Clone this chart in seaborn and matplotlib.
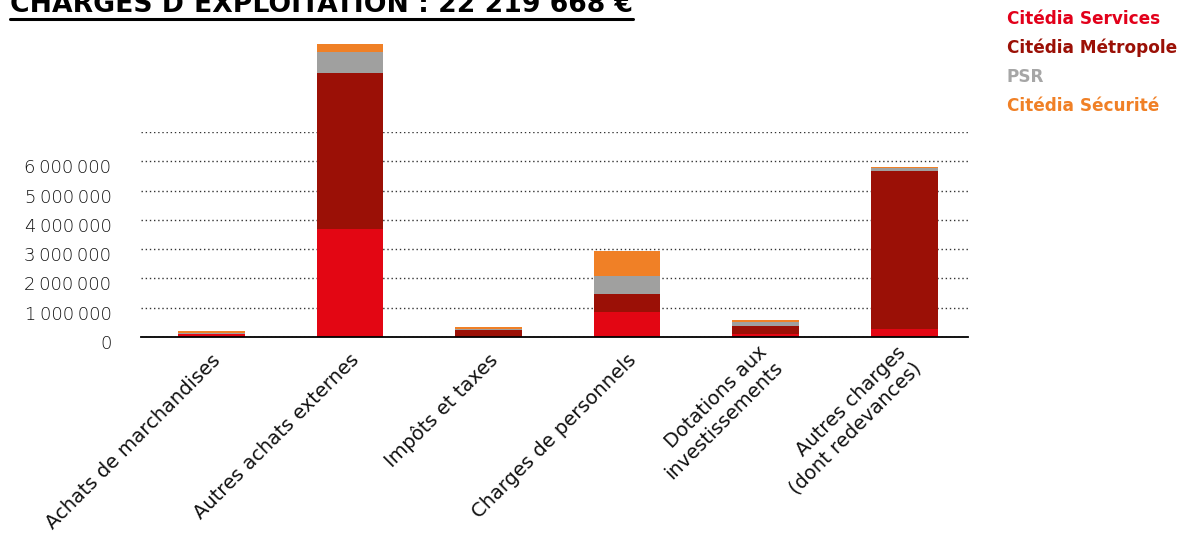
import matplotlib
matplotlib.use('Agg')
import matplotlib.pyplot as plt
import matplotlib.transforms as mtransforms
import numpy as np
import pandas as pd
import seaborn as sns

# data (euros)
categories = ['Achats de marchandises', 'Autres achats externes', 'Impôts et taxes',
              'Charges de personnels', 'Dotations aux\ninvestissements',
              'Autres charges\n(dont redevances)']
entities = ['Citédia Services', 'Citédia Métropole', 'PSR', 'Citédia Sécurité']
services = [110000, 3690000, 50000, 850000, 110000, 270000]
metropole = [10000, 5320000, 200000, 620000, 270000, 5400000]
psr = [5000, 730000, 20000, 620000, 150000, 100000]
securite = [90000, 260000, 80000, 840000, 60000, 30000]
bar_colors = ['#e30613', '#9b1006', '#a0a09f', '#f08026']
text_colors = ['#e2001a', '#9b1006', '#a6a6a6', '#f08026']
yticks = [0, 1000000, 2000000, 3000000, 4000000, 5000000, 6000000, 7000000]
title = 'CHARGES D’EXPLOITATION : 22 219 668 €'

df = pd.DataFrame({'categorie': categories, entities[0]: services, entities[1]: metropole,
                   entities[2]: psr, entities[3]: securite})

sns.set_style('white')
plt.rcParams['font.family'] = ['DejaVu Sans']

fig = plt.figure(figsize=(11.82, 5.36), dpi=100)
ax = fig.add_axes([0.119, 0.371, 0.70, 0.383])

bottom = np.zeros(len(categories))
for ent, col in zip(entities, bar_colors):
    sns.barplot(data=df, x='categorie', y=ent, color=col, width=0.48, bottom=bottom,
                errorbar=None, saturation=1, ax=ax, zorder=3, linewidth=0)
    bottom = bottom + df[ent].to_numpy()
for p in ax.patches:
    p.set_clip_on(False)

ax.set_xlim(-0.51, 5.46)
ax.set_ylim(0, 7000000)
ax.set_yticks(yticks)
ax.set_yticklabels([f'{v:,}'.replace(',', '\u2009') if v < 7000000 else '' for v in yticks],
                   fontsize=13, fontweight='light', color='#111111')
ax.tick_params(axis='y', length=0, pad=21)
ax.tick_params(axis='x', length=0, pad=0)
yoff = mtransforms.ScaledTranslation(0, -5 / 100, fig.dpi_scale_trans)
for lab in ax.get_yticklabels():
    lab.set_transform(lab.get_transform() + yoff)
ax.set_xticks(range(len(categories)))
ax.set_xticklabels(categories, rotation=45, ha='right', va='center',
                   rotation_mode='anchor', fontsize=14, color='#111111')
xoff = mtransforms.ScaledTranslation(6 / 100, -20 / 100, fig.dpi_scale_trans)
for lab in ax.get_xticklabels():
    lab.set_transform(lab.get_transform() + xoff)
ax.set_xlabel('')
ax.set_ylabel('')
ax.yaxis.grid(True, linestyle=(0, (1, 2)), color='#333333', linewidth=1, zorder=0)
ax.set_axisbelow(True)
for s in ['top', 'right', 'left']:
    ax.spines[s].set_visible(False)
ax.spines['bottom'].set_color('black')
ax.spines['bottom'].set_linewidth(1.3)
ax.spines['bottom'].set_zorder(4)

# title with underline
fig.text(10 / 1182, 1 - 12 / 536, title, fontsize=19.2, fontweight='bold', va='baseline',
         ha='left', color='black')
fig.add_artist(plt.Line2D([10 / 1182, 633 / 1182], [1 - 19 / 536] * 2, color='black',
                          linewidth=2.2, transform=fig.transFigure))

# legend as coloured text
for i, (ent, col) in enumerate(zip(entities, text_colors)):
    fig.text(1007 / 1182, 1 - (19 + 29 * i) / 536, ent, color=col, fontsize=12.2,
             fontweight='bold', va='center', ha='left')

fig.savefig('out.png', dpi=100)
plt.close(fig)
